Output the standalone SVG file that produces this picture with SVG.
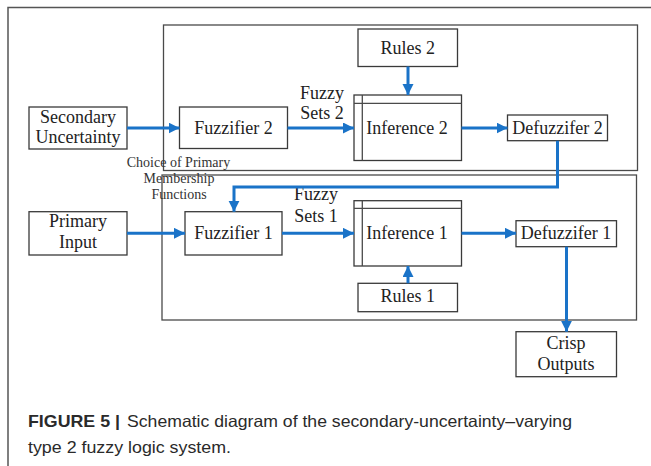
<svg xmlns="http://www.w3.org/2000/svg" width="651" height="466" viewBox="0 0 651 466">
<style>
.bx{fill:#fff;stroke:#3a3a3a;stroke-width:1.3}
.grp{fill:none;stroke:#4a4a4a;stroke-width:1.3}
.t{font-family:"Liberation Serif","Times New Roman",serif;font-size:18px;fill:#222;text-anchor:middle}
.s{font-family:"Liberation Serif","Times New Roman",serif;font-size:14px;fill:#333;text-anchor:middle}
.c{stroke:#1a73c8;stroke-width:3;fill:none;marker-end:url(#ah)}
.cap{font-family:"Liberation Sans",Arial,sans-serif;font-size:16.5px;fill:#2a2a2a}
</style>
<defs>
<marker id="ah" markerUnits="userSpaceOnUse" markerWidth="12" markerHeight="12" refX="11" refY="5.5" orient="auto">
<path d="M0,0 L11,5.5 L0,11 Z" fill="#1a73c8"/>
</marker>
</defs>
<rect width="651" height="466" fill="#fff"/>
<path d="M8,466 V7.5 H651" fill="none" stroke="#555" stroke-width="1.5"/>
<g id="upper-system"><rect class="grp" x="163.5" y="25" width="474" height="145.5"/></g>
<g id="lower-system"><rect class="grp" x="162" y="175" width="474.5" height="145"/></g>
<g id="secondary-uncertainty"><rect class="bx" x="29" y="107" width="98" height="42"/><text class="t" x="78" y="123">Secondary</text><text class="t" x="78" y="143">Uncertainty</text></g>
<g id="fuzzifier2"><rect class="bx" x="179.5" y="107" width="108" height="41.5"/><text class="t" x="233.5" y="133.5">Fuzzifier 2</text></g>
<g id="rules2"><rect class="bx" x="358" y="29" width="99.5" height="37.5"/><text class="t" x="407.7" y="53.5">Rules 2</text></g>
<g id="inference2"><rect class="bx" x="354" y="95" width="107.5" height="65.5"/><path class="grp" d="M354,103.3 H461.5 M362.3,95 V160.5"/><text class="t" x="407" y="133.5">Inference 2</text></g>
<g id="defuzzifier2"><rect class="bx" x="507.5" y="115" width="100" height="25.7"/><text class="t" x="557.5" y="133.5">Defuzzifer 2</text></g>
<g id="primary-input"><rect class="bx" x="29" y="211.7" width="98" height="43.3"/><text class="t" x="78" y="227">Primary</text><text class="t" x="78" y="248">Input</text></g>
<g id="fuzzifier1"><rect class="bx" x="185" y="211.7" width="97" height="43.3"/><text class="t" x="233.5" y="238.5">Fuzzifier 1</text></g>
<g id="inference1"><rect class="bx" x="354" y="200.7" width="107.5" height="65.3"/><path class="grp" d="M354,208.3 H461.5 M362.3,200.7 V266"/><text class="t" x="407" y="238.5">Inference 1</text></g>
<g id="rules1"><rect class="bx" x="358" y="283.3" width="99.5" height="28.4"/><text class="t" x="407.7" y="302">Rules 1</text></g>
<g id="defuzzifier1"><rect class="bx" x="516" y="220.7" width="100.5" height="26"/><text class="t" x="566" y="238.5">Defuzzifer 1</text></g>
<g id="crisp-outputs"><rect class="bx" x="516" y="331.7" width="100.5" height="45"/><text class="t" x="566" y="348.5">Crisp</text><text class="t" x="566" y="370">Outputs</text></g>
<g id="labels">
<text class="t" x="322" y="99">Fuzzy</text><text class="t" x="322" y="119">Sets 2</text>
<text class="t" x="316" y="200">Fuzzy</text><text class="t" x="316" y="221.5">Sets 1</text>
<text class="s" x="178.5" y="166.7">Choice of Primary</text>
<text class="s" x="179" y="183.3">Membership</text>
<text class="s" x="179" y="198.5">Functions</text>
</g>
<g id="connectors">
<path class="c" d="M127,128 H179.5"/>
<path class="c" d="M287.5,128 H354"/>
<path class="c" d="M461.5,128 H507.5"/>
<path class="c" d="M408,66.5 V95"/>
<path class="c" d="M557.5,140.7 V187 H234 V211.7"/>
<path class="c" d="M127,233.3 H185"/>
<path class="c" d="M282,233.3 H354"/>
<path class="c" d="M461.5,233.3 H516"/>
<path class="c" d="M408,283.3 V266"/>
<path class="c" d="M566.5,246.7 V331.7"/>
</g>
<g id="caption">
<text class="cap" x="28" y="427" font-weight="bold" textLength="92" lengthAdjust="spacingAndGlyphs">FIGURE 5 |</text>
<text class="cap" x="127" y="427" textLength="445" lengthAdjust="spacingAndGlyphs">Schematic diagram of the secondary-uncertainty–varying</text>
<text class="cap" x="28" y="453" textLength="203" lengthAdjust="spacingAndGlyphs">type 2 fuzzy logic system.</text>
</g>
</svg>
